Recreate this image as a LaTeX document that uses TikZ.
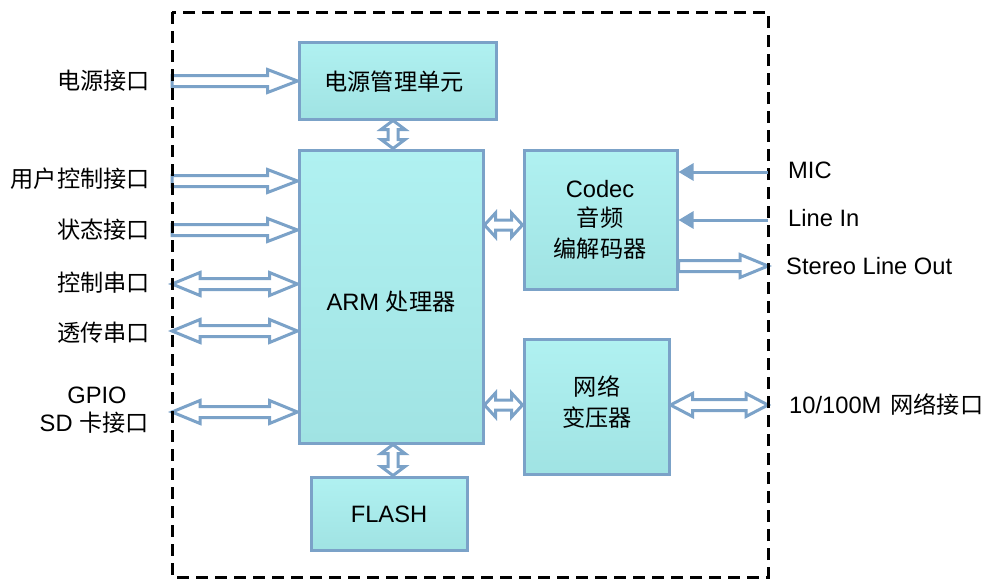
\documentclass[tikz,border=0pt]{standalone}
\usepackage{fontspec}
\setmainfont{Liberation Sans}
\newfontfamily\cjk{Noto Sans CJK SC}
\usetikzlibrary{calc,arrows.meta,backgrounds}

\definecolor{edge}{HTML}{7BA2C8}
\definecolor{boxtop}{HTML}{B0F1F1}
\definecolor{boxbot}{HTML}{A0E3E3}

\tikzset{
  arrshaft/.store in=\arrW, arrhead/.store in=\arrH, arrlen/.store in=\arrL,
  arrshaft=5.5pt, arrhead=11.5pt, arrlen=30pt,
  % hollow block arrow pointing at the target
  blockone/.style={draw=edge, fill=white, line width=3pt, line join=miter,
    to path={
      ($(\tikztotarget)!\arrL!(\tikztostart)$) coordinate (hb)
      ($(\tikztostart)!\arrW!90:(\tikztotarget)$)
      -- ($(hb)!\arrW!90:(\tikztotarget)$)
      -- ($(hb)!\arrH!90:(\tikztotarget)$)
      -- (\tikztotarget)
      -- ($(hb)!\arrH!-90:(\tikztotarget)$)
      -- ($(hb)!\arrW!-90:(\tikztotarget)$)
      -- ($(\tikztostart)!\arrW!-90:(\tikztotarget)$)
      -- cycle}},
  % hollow block arrow with a head at both ends
  blocktwo/.style={draw=edge, fill=white, line width=3pt, line join=miter,
    to path={
      ($(\tikztostart)!\arrL!(\tikztotarget)$) coordinate (ha)
      ($(\tikztotarget)!\arrL!(\tikztostart)$) coordinate (hb)
      (\tikztostart)
      -- ($(ha)!\arrH!90:(\tikztotarget)$)
      -- ($(ha)!\arrW!90:(\tikztotarget)$)
      -- ($(hb)!\arrW!90:(\tikztotarget)$)
      -- ($(hb)!\arrH!90:(\tikztotarget)$)
      -- (\tikztotarget)
      -- ($(hb)!\arrH!-90:(\tikztotarget)$)
      -- ($(hb)!\arrW!-90:(\tikztotarget)$)
      -- ($(ha)!\arrW!-90:(\tikztotarget)$)
      -- ($(ha)!\arrH!-90:(\tikztotarget)$)
      -- cycle}},
  thinarrow/.style={draw=edge, line width=3pt,
    -{Triangle[length=15pt,width=17pt]}},
  unit/.style={draw=edge, line width=3pt, top color=boxtop, bottom color=boxbot,
    inner sep=0pt},
  txt/.style={inner sep=0pt, font=\fontsize{23.7}{28}\selectfont},
  zh/.style={inner sep=0pt, font=\fontsize{23.2}{28}\selectfont\cjk},
}

\begin{document}
\begin{tikzpicture}[x=1pt, y=-1pt]
\useasboundingbox (0,0) rectangle (989,581);

% functional units
\node[unit, minimum width=197pt, minimum height=77pt] (pmu)   at (397.5,80.5) {};
\node[unit, minimum width=184pt, minimum height=293pt] (arm)  at (391,296.5) {};
\node[unit, minimum width=153pt, minimum height=139pt] (codec) at (600.5,219.5) {};
\node[unit, minimum width=145pt, minimum height=135pt] (net)  at (596.5,406.5) {};
\node[unit, minimum width=156pt, minimum height=73pt] (flash) at (389,513.5) {};

% unit texts
\node[zh] (tpmu) at (394,82) {电源管理单元};
\node[txt] (tarm) at (391,302) {ARM {\cjk\fontsize{23.2}{28}\selectfont 处理器}};
\node[txt] (tcodec1) at (600,189) {Codec};
\node[zh] (tcodec2) at (600,218) {音频};
\node[zh] (tcodec3) at (600,249) {编解码器};
\node[zh] (tnet1) at (597,387) {网络};
\node[zh] (tnet2) at (597,418) {变压器};
\node[txt] (tflash) at (389,514) {FLASH};

% board outline
\draw[black, line width=3pt, dash pattern=on 12pt off 7pt] (172,12) rectangle (768,577);

% connection points on the board edge
\coordinate (pwrin) at (172,81);
\coordinate (ucin)  at (172,181);
\coordinate (stin)  at (172,230);
\coordinate (csin)  at (172,284);
\coordinate (ttin)  at (172,331);
\coordinate (gpin)  at (172,412);
\coordinate (acy)   at (0,225);
\coordinate (nety)  at (0,405);
\coordinate (netout) at (768,405);
\coordinate (micin) at (768,172);
\coordinate (linein) at (768,220);
\coordinate (lineout) at (768,266);

\begin{pgfonlayer}{background}
\draw[blockone] (pwrin) to (pmu.west |- pwrin);
\draw[blockone] (ucin) to (arm.west |- ucin);
\draw[blockone] (stin) to (arm.west |- stin);
\draw[blocktwo, arrlen=28pt] (csin) to (arm.west |- csin);
\draw[blocktwo, arrlen=28pt] (ttin) to (arm.west |- ttin);
\draw[blocktwo, arrlen=28pt] (gpin) to (arm.west |- gpin);
\draw[blocktwo, arrshaft=5pt, arrhead=12pt, arrlen=9pt] ([xshift=2pt]arm.north |- pmu.south) to ([xshift=2pt]arm.north);
\draw[blocktwo, arrshaft=5pt, arrhead=12pt, arrlen=9pt] ([xshift=2pt]arm.south) to ([xshift=2pt]arm.south |- flash.north);
\draw[blocktwo, arrshaft=5pt, arrhead=12pt, arrlen=11pt] (arm.east |- acy) to (codec.west |- acy);
\draw[blocktwo, arrshaft=5pt, arrhead=12pt, arrlen=11pt] (arm.east |- nety) to (net.west |- nety);
\draw[blocktwo, arrlen=22pt] (net.east |- nety) to (netout);
\draw[blockone, arrlen=28pt] (codec.east |- lineout) to (lineout);
\end{pgfonlayer}

\draw[thinarrow] (micin) -- (codec.east |- micin);
\draw[thinarrow] (linein) -- (codec.east |- linein);

% outside interfaces
\node[zh, anchor=east] (lpwr) at (150,81) {电源接口};
\node[zh, anchor=east] (luc)  at (150,179) {用户控制接口};
\node[zh, anchor=east] (lst)  at (150,230) {状态接口};
\node[zh, anchor=east] (lcs)  at (150,283) {控制串口};
\node[zh, anchor=east] (ltt)  at (150,333) {透传串口};
\node[txt] (lgpio) at (97,395) {GPIO};
\node[txt, anchor=east] (lsd)  at (149,423) {SD {\cjk\fontsize{23.2}{28}\selectfont 卡接口}};
\node[txt, anchor=west] (lmic) at (788,170) {MIC};
\node[txt, anchor=west] (lin)  at (788,218) {Line In};
\node[txt, anchor=west] (lout) at (786,266) {Stereo Line Out};
\node[txt, anchor=west] (leth) at (789,405) {10/100M\hspace{9pt}{\cjk\fontsize{23.2}{28}\selectfont 网络接口}};
\end{tikzpicture}
\end{document}
